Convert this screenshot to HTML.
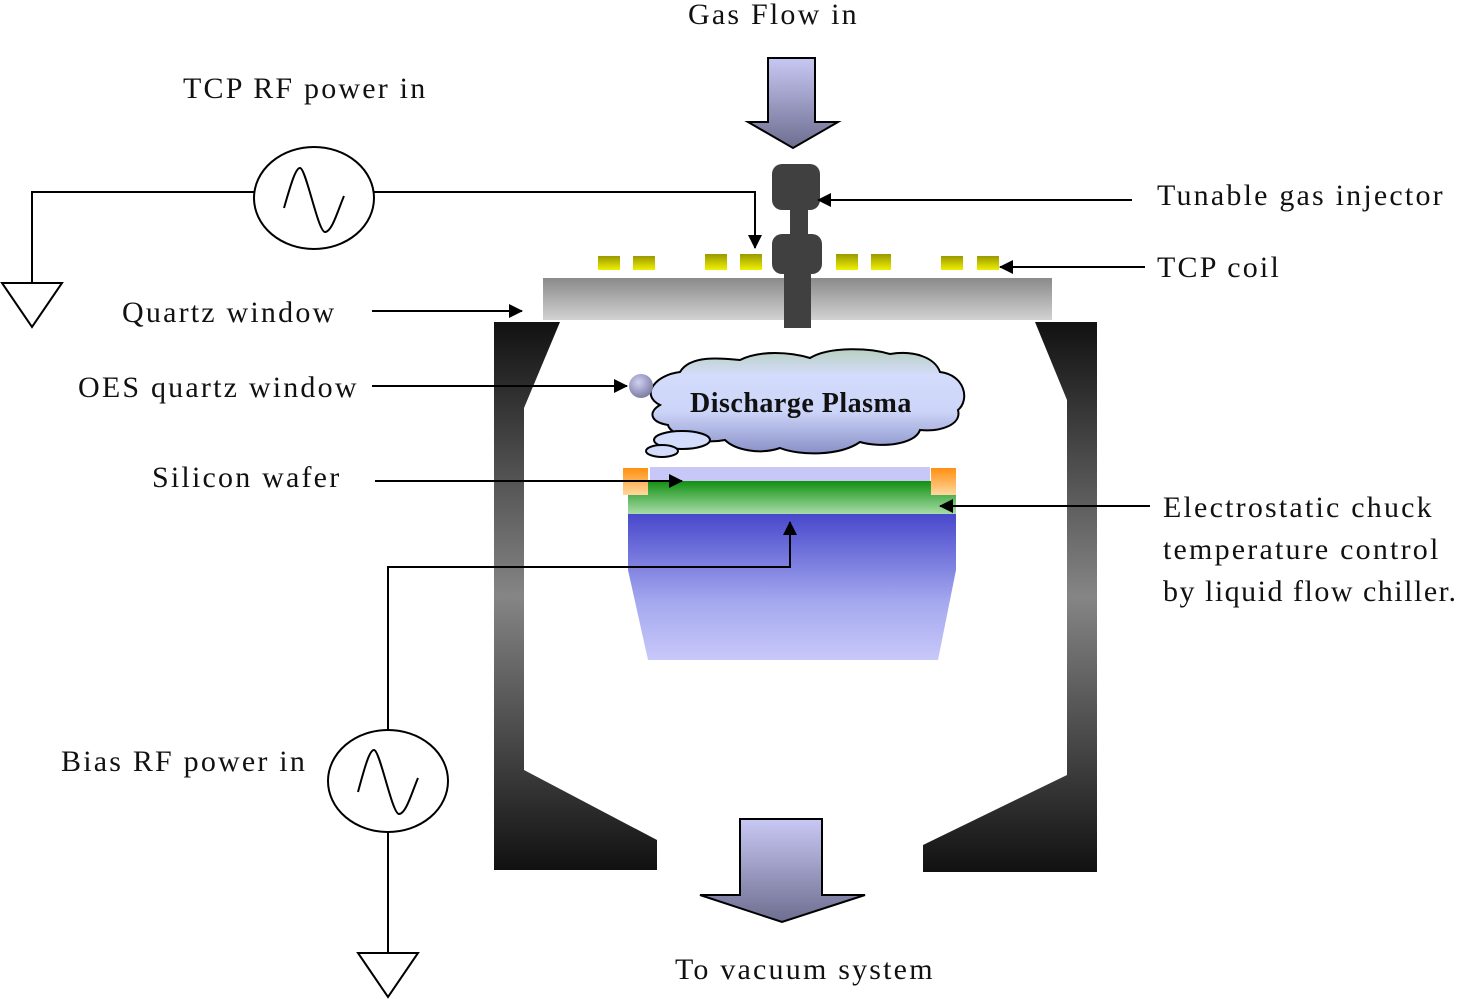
<!DOCTYPE html>
<html><head><meta charset="utf-8"><style>
html,body{margin:0;padding:0;background:#fff;}
svg{display:block;}
text{font-family:"Liberation Serif",serif;font-size:30px;fill:#111;letter-spacing:2.2px;}
</style></head><body>
<svg width="1462" height="1000" viewBox="0 0 1462 1000" xmlns="http://www.w3.org/2000/svg">
<defs>
<linearGradient id="wall" x1="0" y1="0" x2="0" y2="1">
<stop offset="0" stop-color="#111"/><stop offset="0.5" stop-color="#858585"/><stop offset="1" stop-color="#111"/></linearGradient>
<linearGradient id="quartz" x1="0" y1="0" x2="0" y2="1">
<stop offset="0" stop-color="#8a8a8a"/><stop offset="1" stop-color="#d2d2d2"/></linearGradient>
<linearGradient id="arrow" x1="0" y1="0" x2="0" y2="1">
<stop offset="0" stop-color="#c8c8f4"/><stop offset="1" stop-color="#6e6e90"/></linearGradient>
<linearGradient id="coil" x1="0" y1="0" x2="0" y2="1">
<stop offset="0" stop-color="#999900"/><stop offset="1" stop-color="#f0f000"/></linearGradient>
<linearGradient id="cloud" x1="0" y1="0" x2="0" y2="1">
<stop offset="0" stop-color="#b8d0c0"/><stop offset="0.25" stop-color="#d4dcfc"/><stop offset="0.6" stop-color="#ccd4f8"/><stop offset="1" stop-color="#8890c8"/></linearGradient>
<linearGradient id="green" x1="0" y1="0" x2="0" y2="1">
<stop offset="0" stop-color="#109010"/><stop offset="1" stop-color="#a8dca8"/></linearGradient>
<linearGradient id="orange" x1="0" y1="0" x2="0" y2="1">
<stop offset="0" stop-color="#ff9010"/><stop offset="1" stop-color="#ffd8a0"/></linearGradient>
<linearGradient id="chuck" x1="0" y1="0" x2="0" y2="1">
<stop offset="0" stop-color="#4848cc"/><stop offset="0.6" stop-color="#a4a8ee"/><stop offset="1" stop-color="#c8c8fa"/></linearGradient>
<radialGradient id="sph" cx="0.4" cy="0.35" r="0.7">
<stop offset="0" stop-color="#d0d0f4"/><stop offset="1" stop-color="#7878a0"/></radialGradient>
<marker id="ah" markerWidth="14" markerHeight="14" refX="13" refY="7" orient="auto" markerUnits="userSpaceOnUse" viewBox="0 0 14 14">
<path d="M0,0 L14,7 L0,14 z" fill="#000"/></marker>
</defs>

<path d="M494,322 L560,322 L524,408 L524,770 L657,840 L657,870 L494,870 Z" fill="url(#wall)"/>
<path d="M1097,322 L1035,322 L1067,400 L1067,775 L923,845 L923,872 L1097,872 Z" fill="url(#wall)"/>

<rect x="543" y="278" width="509" height="42" fill="url(#quartz)"/>
<g fill="url(#coil)">
<rect x="598" y="256" width="22" height="14"/><rect x="633" y="256" width="22" height="14"/>
<rect x="705" y="254" width="22" height="16"/><rect x="740" y="254" width="22" height="16"/>
<rect x="836" y="254" width="22" height="16"/><rect x="871" y="254" width="20" height="16"/>
<rect x="941" y="256" width="22" height="14"/><rect x="977" y="256" width="22" height="14"/>
</g>
<g fill="#404040">
<rect x="784" y="270" width="27" height="58"/>
<rect x="772" y="234" width="50" height="40" rx="10"/>
<rect x="790" y="205" width="18" height="34"/>
<rect x="772" y="164" width="48" height="46" rx="10"/>
</g>

<path d="M768,58 L815,58 L815,122 L838,122 L793,148 L748,122 L768,122 Z" fill="url(#arrow)" stroke="#000" stroke-width="2"/>
<path d="M740,819 L822,819 L822,895 L865,895 L782,922 L700,895 L740,895 Z" fill="url(#arrow)" stroke="#000" stroke-width="2"/>

<path d="M660,405 C640,395 655,375 680,372 C690,355 720,358 740,360 C760,350 790,352 810,358 C830,346 870,348 890,354 C915,350 935,358 940,372 C965,375 970,400 958,410 C962,425 940,432 920,430 C915,445 880,448 860,442 C840,456 800,456 780,448 C760,455 735,450 725,440 C700,445 670,435 668,425 C650,422 648,412 660,405 Z" fill="url(#cloud)" stroke="#000" stroke-width="2"/>
<ellipse cx="682" cy="440" rx="28" ry="9" fill="#d4dcfc" stroke="#000" stroke-width="2"/>
<ellipse cx="662" cy="451" rx="16" ry="6" fill="#d4dcfc" stroke="#000" stroke-width="2"/>
<circle cx="641" cy="386" r="12" fill="url(#sph)"/>
<text x="690" y="412" style="font-weight:bold;font-size:28px;letter-spacing:0.5px">Discharge Plasma</text>

<rect x="650" y="467" width="280" height="14" fill="#c8c8f8"/>
<rect x="628" y="481" width="328" height="33" fill="url(#green)"/>
<rect x="623" y="468" width="25" height="27" fill="url(#orange)"/>
<rect x="931" y="468" width="25" height="27" fill="url(#orange)"/>
<path d="M628,514 L956,514 L956,570 L938,660 L648,660 L628,570 Z" fill="url(#chuck)"/>

<g fill="none" stroke="#000" stroke-width="2">
<ellipse cx="314" cy="198" rx="60" ry="51"/>
<path d="M284,208 C292,180 296,168 300,168 C306,168 318,232 325,232 C332,232 338,210 344,196"/>
<path d="M254,192 L32,192 L32,283"/>
<path d="M2,283 L62,283 L32,327 Z"/>
<path d="M374,192 L755,192 L755,248" marker-end="url(#ah)"/>
<ellipse cx="388" cy="781" rx="60" ry="51"/>
<path d="M358,792 C366,762 370,750 374,750 C380,750 392,814 399,814 C406,814 412,792 418,778"/>
<path d="M388,730 L388,567 L790,567 L790,522" marker-end="url(#ah)"/>
<path d="M388,832 L388,953"/>
<path d="M358,953 L418,953 L388,997 Z"/>
<path d="M1132,200 L818,200" marker-end="url(#ah)"/>
<path d="M1145,267 L1000,267" marker-end="url(#ah)"/>
<path d="M372,311 L522,311" marker-end="url(#ah)"/>
<path d="M372,386 L627,386" marker-end="url(#ah)"/>
<path d="M375,481 L682,481" marker-end="url(#ah)"/>
<path d="M1150,506 L940,506" marker-end="url(#ah)"/>
</g>

<text x="688" y="24">Gas Flow in</text>
<text x="183" y="98">TCP RF power in</text>
<text x="1157" y="205">Tunable gas injector</text>
<text x="1157" y="277">TCP coil</text>
<text x="122" y="322">Quartz window</text>
<text x="78" y="397">OES quartz window</text>
<text x="152" y="487">Silicon wafer</text>
<text x="1163" y="517">Electrostatic chuck</text>
<text x="1163" y="559">temperature control</text>
<text x="1163" y="601" style="letter-spacing:1.5px">by liquid flow chiller.</text>
<text x="61" y="771">Bias RF power in</text>
<text x="675" y="979">To vacuum system</text>
</svg>
</body></html>
